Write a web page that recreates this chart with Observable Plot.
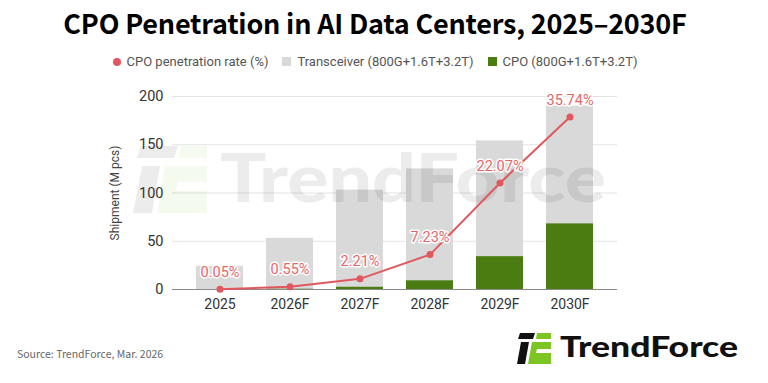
<!DOCTYPE html>
<html><head><meta charset="utf-8">
<script src="https://cdn.jsdelivr.net/npm/d3@7"></script>
<script src="https://cdn.jsdelivr.net/npm/@observablehq/plot@0.6"></script>
<style>
html,body{margin:0;padding:0;background:#fff;}
#wrap{position:relative;width:768px;height:383px;overflow:hidden;font-family:Roboto,sans-serif;}
#title{position:absolute;left:0;width:750px;top:3px;text-align:center;font-family:"Noto Sans CJK SC","Noto Sans",sans-serif;font-weight:700;font-size:27px;color:#000;letter-spacing:-0.2px;}
#legend{position:absolute;left:0;width:750px;top:54px;text-align:center;font-size:13px;color:#555;white-space:nowrap;}
#legend span.item{margin:0 7px;}
#legend i{display:inline-block;vertical-align:middle;margin-right:6px;position:relative;top:-1px;}
#chart{position:absolute;left:0;top:0;z-index:1;}
#source{position:absolute;left:17px;top:346px;font-family:"Noto Sans CJK SC","Noto Sans",sans-serif;font-size:10.5px;color:#666;}
#logo{position:absolute;left:0;top:0;z-index:3;}
</style></head>
<body><div id="wrap">
<div id="chart"></div>
<svg id="wmsrc" width="0" height="0" style="position:absolute">
  <g id="wm" text-anchor="start">
  <g fill="#000" fill-opacity="0.075">
    <polygon points="141,146 178,146 174,158 137,158"/>
    <polygon points="142,166 160,166 152,213 133,213"/>
    <text x="220" y="202" text-anchor="start" font-family="Lato" font-weight="900" font-size="66" textLength="386" lengthAdjust="spacingAndGlyphs">TrendForce</text>
  </g>
  <g fill="#8cc63f" fill-opacity="0.09">
    <polygon points="181,146 207,146 207,158 179,158"/>
    <polygon points="165,166 207,166 207,182 178,182 176,191 207,191 207,213 157,213"/>
  </g>
  </g>
</svg>
<div id="title">CPO Penetration in AI Data Centers, 2025–2030F</div>
<div id="legend"></div>
<div id="source">Source: TrendForce, Mar. 2026</div>
<svg id="logo" width="768" height="383">
  <polygon points="520,333 535,333 533,339 518,339" fill="#111"/>
  <polygon points="521,342 529,342 525,364 517,364" fill="#111"/>
  <polygon points="537,333 551,333 551,339 536,339" fill="#7cc522"/>
  <polygon points="532,342 551,342 551,349 537,349 536,353 551,353 551,364 528,364" fill="#7cc522"/>
  <text x="560" y="357" font-family="Lato" font-weight="900" font-size="28" fill="#111" textLength="178" lengthAdjust="spacingAndGlyphs">TrendForce</text>
</svg>
</div>
<script>
const years = ["2025","2026F","2027F","2028F","2029F","2030F"];
const transceiver = [24, 53, 103, 125, 154, 190];
const cpo = [0.01, 0.3, 2.3, 9, 34, 68];
const rate = [0.05, 0.55, 2.21, 7.23, 22.07, 35.74];
const rateLabels = ["0.05%","0.55%","2.21%","7.23%","22.07%","35.74%"];
const yTicks = [0, 50, 100, 150, 200];
const yMax = 200, rateMax = 40;
const seriesNames = ["CPO penetration rate (%)","Transceiver (800G+1.6T+3.2T)","CPO (800G+1.6T+3.2T)"];
const colors = {rate:"#e0585e", label:"#e4676b", trans:"#d9d9d9", cpo:"#4a7c12"};

const rows = years.map((y,i)=>({year:y, trans:transceiver[i], cpo:cpo[i], rate:rate[i], rateY:rate[i]*yMax/rateMax, label:rateLabels[i]}));

const chart = Plot.plot({
  width:768, height:383,
  marginTop:96, marginBottom:94, marginLeft:172, marginRight:151,
  style:{fontFamily:"Roboto, sans-serif", background:"transparent"},
  x:{domain:years, padding:0.335, label:null},
  y:{domain:[0,yMax], label:null},
  marks:[
    Plot.gridY(yTicks.filter(d=>d>0), {stroke:"#e3e3e3", strokeOpacity:1}),
    Plot.barY(rows, {x:"year", y:"trans", fill:colors.trans}),
    Plot.barY(rows, {x:"year", y:"cpo", fill:colors.cpo}),
    Plot.ruleY([0], {stroke:"#8a8a8a", strokeWidth:1}),
    Plot.line(rows, {x:"year", y:"rateY", stroke:colors.rate, strokeWidth:2}),
    Plot.dot(rows, {x:"year", y:"rateY", fill:colors.rate, r:3.5}),
    Plot.text(rows, {x:"year", y:"rateY", text:"label", dy:-17, fill:colors.label, fontSize:14.5, stroke:"white", strokeWidth:3}),
    Plot.axisY(yTicks, {tickSize:0, tickPadding:9, fontSize:14.5, color:"#333", label:"Shipment (M pcs)", labelAnchor:"center", labelArrow:"none", labelOffset:62}),
    Plot.axisX({tickSize:0, tickPadding:10, fontSize:14, color:"#333", label:null})
  ]
});
chart.querySelectorAll("g[aria-label='y-axis label']").forEach(e=>{e.setAttribute("font-size","12");e.setAttribute("fill","#444");});
// watermark sits above the bars but below the line and labels
const lineG = chart.querySelector("g[aria-label='line']") || chart.querySelector("path[aria-label='line']");
const wm = document.getElementById("wm");
if (lineG) chart.insertBefore(wm, lineG); else chart.appendChild(wm);
document.getElementById("chart").appendChild(chart);

const legend = document.getElementById("legend");
const swatches = [
  `<i style="width:8px;height:8px;border-radius:50%;background:${colors.rate}"></i>`,
  `<i style="width:9px;height:9px;background:${colors.trans}"></i>`,
  `<i style="width:9px;height:9px;background:${colors.cpo}"></i>`
];
legend.innerHTML = seriesNames.map((n,i)=>`<span class="item">${swatches[i]}${n}</span>`).join("");
</script>
</body></html>
